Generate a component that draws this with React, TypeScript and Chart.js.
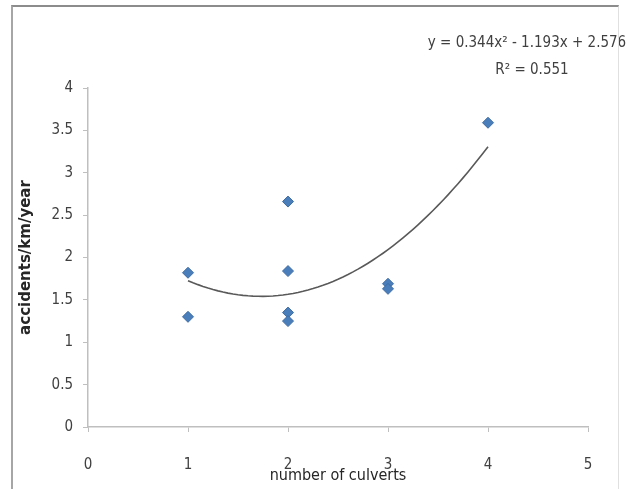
import React, { useEffect, useRef } from "react";
import { Chart, registerables } from "chart.js";

Chart.register(...registerables);

// Observed data (number of culverts vs accidents/km/year)
const culverts = [1, 1, 2, 2, 2, 2, 3, 3, 4];
const accidents = [1.82, 1.3, 2.66, 1.84, 1.35, 1.25, 1.69, 1.63, 3.59];

// Trendline coefficients as printed on the chart: y = a x^2 + b x + c
const trendCoefs = [0.344, -1.193, 2.576];
const trendRange = [1, 4];
const equationText = "y = 0.344x² - 1.193x + 2.576";
const r2Text = "R² = 0.551";

const xTicks = [0, 1, 2, 3, 4, 5];
const yTicks = [0, 0.5, 1, 1.5, 2, 2.5, 3, 3.5, 4];

const xTitle = "number of culverts";
const yTitle = "accidents/km/year";

const FONT = "'Liberation Sans Narrow', 'DejaVu Sans Condensed', 'Liberation Sans', sans-serif";

export default function App() {
  const ref = useRef<HTMLCanvasElement | null>(null);

  useEffect(() => {
    if (!ref.current) return;
    const [a, b, c] = trendCoefs;
    const trend: { x: number; y: number }[] = [];
    const steps = 60;
    for (let i = 0; i <= steps; i++) {
      const x = trendRange[0] + ((trendRange[1] - trendRange[0]) * i) / steps;
      trend.push({ x, y: a * x * x + b * x + c });
    }

    const eqPlugin = {
      id: "eqText",
      afterDraw(chart: any) {
        const ctx = chart.ctx;
        ctx.save();
        ctx.fillStyle = "#404040";
        ctx.font = `15px ${FONT}`;
        ctx.textAlign = "center";
        ctx.textBaseline = "middle";
        ctx.fillText(equationText, 527, 43);
        ctx.fillText(r2Text, 532, 70);
        ctx.restore();
      },
    };

    const chart = new Chart(ref.current, {
      type: "scatter",
      data: {
        datasets: [
          {
            label: "data",
            data: culverts.map((x, i) => ({ x, y: accidents[i] })),
            pointStyle: "rectRot",
            pointRadius: 5.5,
            pointBackgroundColor: "#4a7ebb",
            pointBorderColor: "#3d6ca3",
            pointBorderWidth: 1,
            showLine: false,
            order: 0,
          },
          {
            label: "trend",
            type: "line",
            data: trend,
            borderColor: "#595959",
            borderWidth: 1.6,
            pointRadius: 0,
            fill: false,
            tension: 0,
            order: 1,
          } as any,
        ],
      },
      options: {
        animation: false,
        responsive: false,
        maintainAspectRatio: false,
        layout: { padding: { top: 88, right: 39, bottom: 0, left: 0 } },
        plugins: { legend: { display: false }, tooltip: { enabled: false } },
        scales: {
          x: {
            type: "linear",
            min: 0,
            max: 5,
            afterFit: (s: any) => {
              s.height = 62;
            },
            afterBuildTicks: (s: any) => {
              s.ticks = xTicks.map((v) => ({ value: v }));
            },
            ticks: {
              padding: 24,
              color: "#404040",
              font: { family: FONT, size: 15 },
              maxRotation: 0,
              callback: (v: any) => String(v),
            },
            grid: {
              drawOnChartArea: false,
              drawTicks: true,
              tickLength: 5,
              color: "#bfbfbf",
            },
            border: { color: "#bfbfbf", width: 1.5 },
            title: {
              display: true,
              text: xTitle,
              color: "#262626",
              font: { family: FONT, size: 16 },
              padding: { top: 0, bottom: 4 },
            },
          },
          y: {
            type: "linear",
            min: 0,
            max: 4,
            afterFit: (s: any) => {
              s.width = 88;
            },
            afterBuildTicks: (s: any) => {
              s.ticks = yTicks.map((v) => ({ value: v }));
            },
            ticks: {
              padding: 10,
              color: "#404040",
              font: { family: FONT, size: 15 },
              callback: (v: any) => String(v),
            },
            grid: {
              drawOnChartArea: false,
              drawTicks: true,
              tickLength: 5,
              color: "#bfbfbf",
            },
            border: { color: "#bfbfbf", width: 1.5 },
            title: {
              display: true,
              text: yTitle,
              color: "#262626",
              font: { family: "'DejaVu Sans', sans-serif", size: 15, weight: "bold" },
              padding: { top: 17, bottom: 0 },
            },
          },
        },
      },
      plugins: [eqPlugin],
    });
    return () => chart.destroy();
  }, []);

  return (
    <div
      style={{
        position: "fixed",
        left: 0,
        top: 0,
        width: 627,
        height: 489,
        background: "#fff",
        overflow: "hidden",
      }}
    >
      <canvas ref={ref} width={627} height={489} style={{ position: "absolute", left: 0, top: 0 }} />
      <div
        style={{
          position: "absolute",
          left: 11,
          top: 5,
          width: 605,
          height: 520,
          borderTop: "2px solid #8c8c8c",
          borderLeft: "2px solid #a6a6a6",
          borderRight: "1px solid #e0e0e0",
          pointerEvents: "none",
        }}
      />
    </div>
  );
}
